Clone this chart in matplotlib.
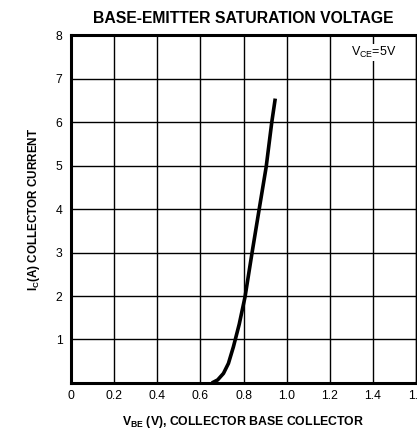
import matplotlib
matplotlib.use("Agg")
import matplotlib.pyplot as plt

# curve
vbe = [0.653, 0.68, 0.707, 0.73, 0.753, 0.78, 0.807, 0.839, 0.872, 0.905, 0.931, 0.947]
ic = [0.0, 0.07, 0.22, 0.45, 0.83, 1.35, 1.98, 2.98, 3.98, 4.97, 6.0, 6.54]

x_ticks = [0, 0.2, 0.4, 0.6, 0.8, 1.0, 1.2, 1.4, 1.6]
x_labels = ["0", "0.2", "0.4", "0.6", "0.8", "1.0", "1.2", "1.4", "1.6"]
y_ticks = [1, 2, 3, 4, 5, 6, 7, 8]

plt.rcParams['font.family'] = ['Liberation Sans', 'DejaVu Sans']
plt.rcParams['mathtext.fontset'] = 'custom'
plt.rcParams['mathtext.rm'] = 'Liberation Sans'
plt.rcParams['mathtext.bf'] = 'Liberation Sans:bold'

fig = plt.figure(figsize=(4.17, 4.33), dpi=100)
ax = fig.add_axes([0.170, 0.1155, 0.828, 0.8035])

ax.plot(vbe, ic, color='black', linewidth=2.6, solid_capstyle='butt')

ax.set_xlim(0, 1.6)
ax.set_ylim(0, 8)
ax.set_xticks(x_ticks)
ax.set_xticklabels(x_labels)
ax.set_yticks(y_ticks)
ax.tick_params(length=0, labelsize=8.8, pad=5)
ax.tick_params(axis='y', pad=6)
ax.grid(True, color='black', linewidth=1.0)
ax.set_axisbelow(True)

for side in ['left', 'top', 'bottom']:
    ax.spines[side].set_linewidth(2.2)
ax.spines['right'].set_linewidth(1.0)

ax.set_title("BASE-EMITTER SATURATION VOLTAGE", fontsize=11.3, fontweight='bold', pad=9)
ax.set_xlabel(r"$\mathbf{V_{BE}}$ (V), COLLECTOR BASE COLLECTOR", fontsize=8.8,
              fontweight='bold', labelpad=9)
ax.set_ylabel(r"$\mathbf{I_C}$(A) COLLECTOR CURRENT", fontsize=8.4,
              fontweight='bold', labelpad=10)

ax.text(1.30, 7.6, r"$\mathrm{V_{CE}}$=5V", fontsize=9, va='center', ha='left',
        bbox=dict(facecolor='white', edgecolor='none', pad=1))

fig.savefig("out.png", dpi=100)
